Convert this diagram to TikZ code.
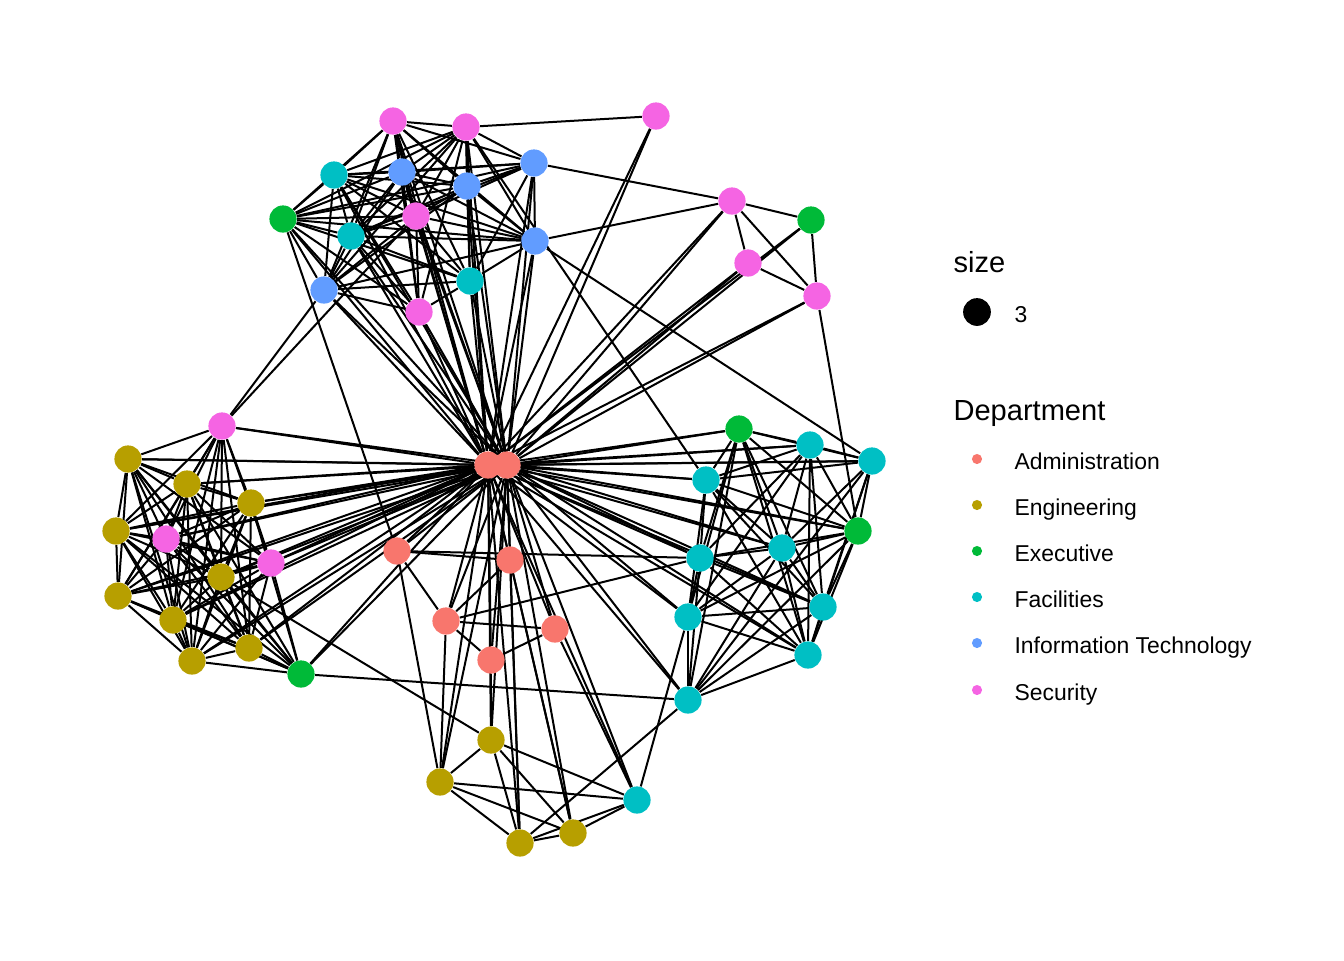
\documentclass[tikz,border=0pt]{standalone}
\usepackage{fontspec}
\setmainfont{Liberation Sans}
\usetikzlibrary{backgrounds}

\definecolor{admcol}{HTML}{F8766D}
\definecolor{engcol}{HTML}{B79F00}
\definecolor{execol}{HTML}{00BA38}
\definecolor{faccol}{HTML}{00BFC4}
\definecolor{itcol}{HTML}{619CFF}
\definecolor{seccol}{HTML}{F564E3}

\begin{document}
\begin{tikzpicture}[x=0.375pt,y=-0.375pt]

	\tikzstyle{v-node}=[circle,inner sep=0pt,minimum size=10.2pt]
	\tikzstyle{adm}=[v-node,fill=admcol]
	\tikzstyle{eng}=[v-node,fill=engcol]
	\tikzstyle{exe}=[v-node,fill=execol]
	\tikzstyle{fac}=[v-node,fill=faccol]
	\tikzstyle{it}=[v-node,fill=itcol]
	\tikzstyle{sec}=[v-node,fill=seccol]
	\tikzstyle{e-line}=[draw=black,line width=0.75pt]
	\tikzstyle{key-dot}=[circle,inner sep=0pt,minimum size=3.8pt]
	\tikzstyle{key-text}=[anchor=base west,inner sep=0pt,font=\fontsize{8.6}{10}\selectfont]
	\tikzstyle{key-title}=[anchor=base west,inner sep=0pt,font=\fontsize{10.9}{13}\selectfont]

	\useasboundingbox (0,0) rectangle (1344,960);

	% upper group
	\node[sec] (sec1) at (393,121) {};
	\node[sec] (sec2) at (466,127) {};
	\node[sec] (sec3) at (656,116) {};
	\node[fac] (fac1) at (334,175) {};
	\node[it]  (it1)  at (402,172) {};
	\node[it]  (it2)  at (467,186) {};
	\node[it]  (it3)  at (534,163) {};
	\node[exe] (exe1) at (283,219) {};
	\node[sec] (sec4) at (416,216) {};
	\node[fac] (fac2) at (351,236) {};
	\node[it]  (it4)  at (535,241) {};
	\node[fac] (fac3) at (470,281) {};
	\node[it]  (it5)  at (324,290) {};
	\node[sec] (sec5) at (419,312) {};
	\node[sec] (sec6) at (732,201) {};
	\node[exe] (exe2) at (811,220) {};
	\node[sec] (sec7) at (748,263) {};
	\node[sec] (sec8) at (817,296) {};

	% hub
	\node[adm] (adm1) at (488,465) {};
	\node[adm] (adm2) at (507,465) {};

	% left group
	\node[sec] (sec9)  at (222,426) {};
	\node[eng] (eng1)  at (128,459) {};
	\node[eng] (eng2)  at (187,484) {};
	\node[eng] (eng3)  at (251,503) {};
	\node[eng] (eng4)  at (116,531) {};
	\node[sec] (sec10) at (166,539) {};
	\node[sec] (sec11) at (271,563) {};
	\node[eng] (eng5)  at (221,577) {};
	\node[eng] (eng6)  at (118,596) {};
	\node[eng] (eng7)  at (173,620) {};
	\node[eng] (eng8)  at (249,648) {};
	\node[eng] (eng9)  at (192,661) {};
	\node[exe] (exe3)  at (301,674) {};

	% middle group
	\node[adm] (adm3) at (397,551) {};
	\node[adm] (adm4) at (510,560) {};
	\node[adm] (adm5) at (446,621) {};
	\node[adm] (adm6) at (555,629) {};
	\node[adm] (adm7) at (491,660) {};

	% right group
	\node[exe] (exe4)  at (739,429) {};
	\node[fac] (fac4)  at (810,445) {};
	\node[fac] (fac5)  at (872,461) {};
	\node[fac] (fac6)  at (706,480) {};
	\node[exe] (exe5)  at (858,531) {};
	\node[fac] (fac7)  at (700,558) {};
	\node[fac] (fac8)  at (782,548) {};
	\node[fac] (fac9)  at (823,607) {};
	\node[fac] (fac10) at (688,617) {};
	\node[fac] (fac11) at (808,655) {};
	\node[fac] (fac12) at (688,700) {};

	% lower group
	\node[eng] (eng10) at (491,740) {};
	\node[eng] (eng11) at (440,782) {};
	\node[fac] (fac13) at (637,800) {};
	\node[eng] (eng12) at (520,843) {};
	\node[eng] (eng13) at (573,833) {};

	% ties
	\begin{pgfonlayer}{background}
	\foreach \h in {adm1,adm2}
		\foreach \v in {sec1,sec2,sec3,fac1,it1,it2,it3,exe1,sec4,fac2,it4,fac3,it5,sec5,sec6,exe2,sec7,sec8,
			sec9,eng1,eng2,eng3,eng4,sec10,sec11,eng5,eng6,eng7,eng8,eng9,exe3,
			adm3,adm4,adm5,adm6,adm7,
			exe4,fac4,fac5,fac6,exe5,fac7,fac8,fac9,fac10,fac11,fac12,
			eng10,eng11,fac13,eng12,eng13}
			\draw[e-line] (\h) -- (\v);
	\draw[e-line] (adm1) -- (adm2);

	\foreach \u/\vs in {
		sec1/{sec2,fac1,it1,it2,it3,exe1,sec4,fac2,it4,fac3,it5,sec5},
		sec2/{fac1,it1,it2,it3,exe1,sec4,fac2,it4,fac3,it5,sec5,sec3,fac6},
		fac1/{it1,it2,it3,exe1,sec4,fac2,it4,fac3,it5,sec5},
		it1/{it2,it3,exe1,sec4,fac2,it4,it5,sec5},
		it2/{it3,exe1,sec4,fac2,it4,fac3,it5},
		it3/{exe1,sec4,fac2,it4,fac3,sec6},
		exe1/{sec4,fac2,it4,fac3,it5,sec5,adm3},
		sec4/{fac2,it4,fac3,it5,sec5,sec9},
		fac2/{it4,fac3,it5,sec5},
		it4/{fac3,it5,sec6,fac5},
		fac3/{it5,sec5},
		it5/{sec5,sec9},
		sec6/{exe2,sec7,sec8},
		exe2/{sec8},
		sec7/{sec8},
		sec8/{exe5},
		sec9/{eng1,eng2,eng3,eng4,sec10,sec11,eng5,eng6,eng7,eng8,eng9},
		eng1/{eng2,eng3,eng4,sec10,sec11,eng5,eng6,eng7,eng8,eng9,exe3},
		eng2/{eng3,eng4,sec10,sec11,eng5,eng6,eng7,eng8,eng9,exe3},
		eng3/{eng4,sec10,sec11,eng5,eng6,eng7,eng8,eng9,exe3},
		eng4/{sec10,sec11,eng5,eng6,eng7,eng8,eng9,exe3},
		sec10/{sec11,eng5,eng6,eng7,eng8,eng9,exe3},
		sec11/{eng5,eng6,eng7,eng8,eng9,exe3},
		eng5/{eng6,eng7,eng8,eng9,exe3,eng10},
		eng6/{eng7,eng8,eng9,exe3},
		eng7/{eng8,eng9,exe3},
		eng8/{eng9,exe3},
		eng9/{exe3},
		exe3/{fac12},
		adm3/{adm4,adm5,fac7,eng11},
		adm4/{adm5,eng12,eng13},
		adm5/{adm6,adm7,fac7,eng11},
		adm6/{adm7,fac13},
		adm7/{eng10},
		exe4/{fac4,fac5,fac6,exe5,fac7,fac8,fac9,fac10,fac11,fac12},
		fac4/{fac5,fac6,exe5,fac7,fac8,fac9,fac10,fac11},
		fac5/{fac6,exe5,fac8,fac9,fac11,fac12},
		fac6/{exe5,fac7,fac8,fac9,fac10,fac11},
		exe5/{fac7,fac8,fac9,fac10,fac11,fac12},
		fac7/{fac8,fac9,fac10,fac11,fac12},
		fac8/{fac9,fac10,fac11,fac12},
		fac9/{fac10,fac11,fac12},
		fac10/{fac11,fac12,fac13},
		fac11/{fac12},
		fac12/{eng12},
		eng10/{eng11,eng12,eng13,fac13},
		eng11/{eng12,eng13,fac13},
		eng12/{eng13,fac13},
		eng13/{fac13}}
		\foreach \v in \vs
			\draw[e-line] (\u) -- (\v);
	\end{pgfonlayer}

	% legend
	\node[key-title] (sizetitle) at (953,272) {size};
	\node[circle,fill=black,inner sep=0pt,minimum size=10.4pt] (sizedot) at (977,312) {};
	\node[key-text] (sizeval) at (1014,322) {3};
	\node[key-title] (depttitle) at (953,420) {Department};
	\node[key-dot,fill=admcol] (k-adm) at (977,459) {};
	\node[key-dot,fill=engcol] (k-eng) at (977,505) {};
	\node[key-dot,fill=execol] (k-exe) at (977,551) {};
	\node[key-dot,fill=faccol] (k-fac) at (977,597) {};
	\node[key-dot,fill=itcol]  (k-it)  at (977,643) {};
	\node[key-dot,fill=seccol] (k-sec) at (977,690) {};
	\node[key-text] (l-adm) at (1014,469) {Administration};
	\node[key-text] (l-eng) at (1014,515) {Engineering};
	\node[key-text] (l-exe) at (1014,561) {Executive};
	\node[key-text] (l-fac) at (1014,607) {Facilities};
	\node[key-text] (l-it)  at (1014,653) {Information Technology};
	\node[key-text] (l-sec) at (1014,700) {Security};
\end{tikzpicture}
\end{document}
